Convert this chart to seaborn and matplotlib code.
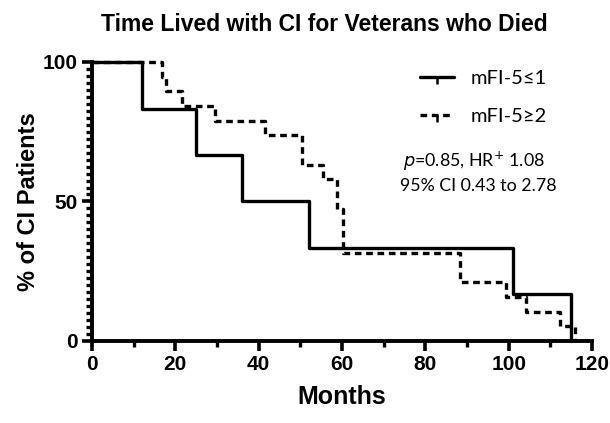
import matplotlib
matplotlib.use('Agg')
import matplotlib.pyplot as plt
import seaborn as sns
from matplotlib.lines import Line2D
from matplotlib.ticker import MultipleLocator

# Kaplan-Meier steps (months, % surviving)
low_time = [0, 12, 25, 36, 52, 101, 115]
low_surv = [100, 83.3, 66.7, 50.0, 33.3, 16.7, 0]

high_time = [0, 16.7, 17.7, 21.5, 29.5, 41.5, 50.5, 55.5, 58.8, 60.3, 88.3, 99.4, 104.2, 112.2, 115.8]
high_surv = [100, 94.7, 89.5, 84.2, 78.9, 73.7, 63.2, 57.9, 47.4, 31.6, 21.1, 15.8, 10.5, 5.3, 0]

labels = ['mFI-5\u22641', 'mFI-5\u22652']
x_ticks = [0, 20, 40, 60, 80, 100, 120]
y_ticks = [0, 50, 100]

sns.set_style('ticks')
plt.rcParams['font.family'] = ['Liberation Sans', 'DejaVu Sans']
for key in ['text.color', 'axes.labelcolor', 'xtick.color', 'ytick.color', 'axes.edgecolor']:
    plt.rcParams[key] = 'black'

fig = plt.figure(figsize=(6.1, 4.23), dpi=100)
ax = fig.add_axes([0.1508, 0.1939, 0.8197, 0.6596])

lw = 2.4
dash = (0, (2.0, 1.4))
sns.lineplot(x=low_time, y=low_surv, drawstyle='steps-post', color='black',
             linewidth=lw, clip_on=False, ax=ax, estimator=None, sort=False)
sns.lineplot(x=high_time, y=high_surv, drawstyle='steps-post', color='black',
             linewidth=lw, linestyle=dash, clip_on=False, ax=ax,
             estimator=None, sort=False)

ax.set_xlim(0, 120)
ax.set_ylim(0, 100)
ax.set_xticks(x_ticks)
ax.set_yticks(y_ticks)
ax.xaxis.set_minor_locator(MultipleLocator(10))
ax.yaxis.set_minor_locator(MultipleLocator(2.5))
ax.tick_params(axis='both', which='major', length=7, width=2.6, labelsize=15, pad=3)
ax.tick_params(axis='both', which='minor', length=4, width=2.4)
for lab in ax.get_xticklabels() + ax.get_yticklabels():
    lab.set_fontweight('bold')

sns.despine(ax=ax)
for side in ['left', 'bottom']:
    ax.spines[side].set_linewidth(2.8)

ax.set_xlabel('Months', fontsize=18, fontweight='bold', labelpad=8)
ax.set_ylabel('% of CI Patients', fontsize=17, fontweight='bold', labelpad=2)

fig.text(0.531, 0.97, 'Time Lived with CI for Veterans who Died', ha='center', va='top',
         fontsize=16.5, fontweight='bold')

handles = [
    Line2D([], [], color='black', linewidth=lw, marker=3, markersize=5, markeredgewidth=1.8),
    Line2D([], [], color='black', linewidth=lw, linestyle=dash, marker=3,
           markersize=5, markeredgewidth=1.8),
]
leg = ax.legend(handles, labels, loc='upper left', bbox_to_anchor=(0.62, 1.035),
                frameon=False, handlelength=1.7, handletextpad=0.8, labelspacing=1.0,
                prop={'family': ['Lato', 'DejaVu Sans'], 'size': 14.5})

ax.text(0.622, 0.645, r'$\it{p}$=0.85, HR$^{+}$ 1.08', transform=ax.transAxes,
        fontsize=12.8, family=['Lato', 'DejaVu Sans'], va='center')
ax.text(0.616, 0.555, '95% CI 0.43 to 2.78', transform=ax.transAxes,
        fontsize=12.8, family=['Lato', 'DejaVu Sans'], va='center')

fig.savefig('out.png', dpi=100)
